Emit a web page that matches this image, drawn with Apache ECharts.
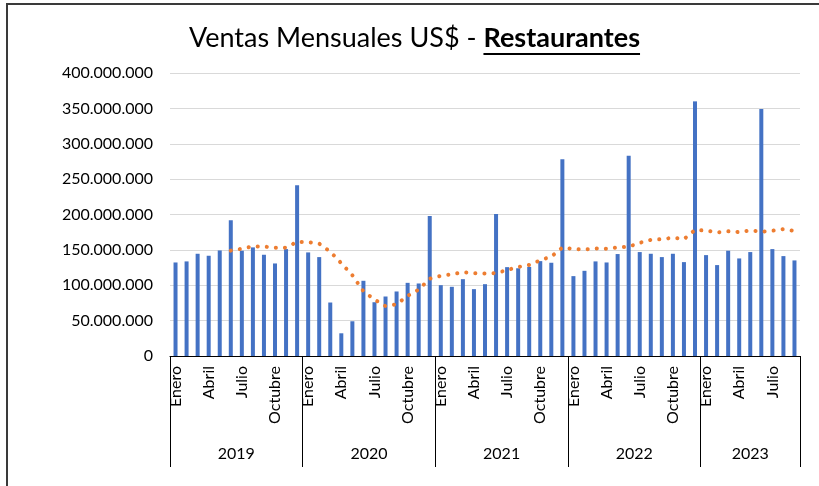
<html>
<head>
<meta charset="utf-8">
<title>Ventas Mensuales</title>
<style>
html, body { margin: 0; padding: 0; background: #fff; overflow: hidden; }
#wrap { position: relative; width: 819px; height: 486px; overflow: hidden; }
#main { width: 819px; height: 486px; }
#frame { position: absolute; left: 6px; top: 3px; width: 900px; height: 600px;
  border-left: 2px solid #3a3a3a; border-top: 2px solid #3a3a3a; pointer-events: none; }
</style>
</head>
<body>
<div id="wrap">
<div id="main"></div>
<div id="frame"></div>
</div>
<script src="https://cdn.jsdelivr.net/npm/echarts@6/dist/echarts.min.js"></script>
<script>
// datos en millones de US$
var years = ['2019', '2020', '2021', '2022', '2023'];
var monthNames = ['Enero', 'Febrero', 'Marzo', 'Abril', 'Mayo', 'Junio',
  'Julio', 'Agosto', 'Septiembre', 'Octubre', 'Noviembre', 'Diciembre'];

var ventas2019 = [132.2, 133.7, 144.5, 141.7, 149.2, 191.8, 148.8, 153.5, 143.1, 130.8, 151.1, 241.3];
var ventas2020 = [146.4, 139.8, 75.6, 32.1, 49.1, 106.3, 76.0, 84.1, 91.2, 103.4, 102.5, 197.9];
var ventas2021 = [100.1, 97.8, 108.6, 94.5, 101.5, 200.7, 125.6, 124.0, 126.0, 134.1, 131.8, 278.2];
var ventas2022 = [112.9, 120.4, 133.7, 132.2, 144.1, 282.9, 146.9, 144.5, 139.8, 144.5, 132.7, 359.9];
var ventas2023 = [142.6, 128.5, 148.8, 137.9, 146.9, 349.0, 151.1, 141.2, 135.1];

// media movil (6 periodos)
var mediaMovil = [null, null, null, null, null, 148.9, 151.6, 154.9, 154.7, 152.9, 153.2, 161.4,
  161.0, 158.8, 147.5, 131.1, 114.1, 91.6, 79.8, 70.5, 73.1, 85.0, 93.9, 109.2,
  113.2, 115.5, 118.4, 116.9, 116.7, 117.2, 121.5, 125.8, 128.7, 135.3, 140.4, 153.3,
  151.2, 150.6, 151.9, 151.5, 153.6, 154.4, 160.0, 164.1, 165.1, 167.1, 165.2, 178.1,
  177.3, 174.7, 176.2, 175.1, 177.4, 175.6, 177.0, 179.2, 176.9];

var yTicks = { min: 0, max: 400000000, interval: 50000000 };

var tituloA = 'Ventas Mensuales US$ - ';
var tituloB = 'Restaurantes';

var ventasPorAnio = [ventas2019, ventas2020, ventas2021, ventas2022, ventas2023];
var meses = [], anios = [], ventas = [];
ventasPorAnio.forEach(function (arr, k) {
  arr.forEach(function (v, m) {
    meses.push(monthNames[m]);
    anios.push(years[k]);
    ventas.push(v * 1e6);
  });
});
var media = mediaMovil.map(function (v) { return v == null ? null : v * 1e6; });

// posicion de la etiqueta del año: centro de cada bloque
var yearLabelIdx = {};
var yearStarts = {};
var start = 0;
ventasPorAnio.forEach(function (arr, k) {
  yearStarts[start] = true;
  yearLabelIdx[start + Math.floor(arr.length / 2)] = { year: years[k], even: arr.length % 2 === 0 };
  start += arr.length;
});

function fmt(v) {
  return String(v).replace(/\B(?=(\d{3})+(?!\d))/g, '.');
}

var FONT = 'Lato';
var TSIZE = 27;

// ancho del titulo para ubicar el subrayado
var ctx = document.createElement('canvas').getContext('2d');
ctx.font = 'normal ' + TSIZE + 'px ' + FONT;
var wA = ctx.measureText(tituloA).width;
ctx.font = 'bold ' + TSIZE + 'px ' + FONT;
var wB = ctx.measureText(tituloB).width;
var tLeft = (819 - wA - wB) / 2 + 5;

var chart = echarts.init(document.getElementById('main'));

option = {
  animation: false,
  textStyle: { fontFamily: FONT },
  title: {
    text: '{a|' + tituloA + '}{b|' + tituloB + '}',
    left: tLeft,
    top: 25,
    padding: 0,
    textStyle: {
      fontWeight: 'normal',
      rich: {
        a: { fontFamily: FONT, fontSize: TSIZE, fontWeight: 'normal', color: '#000' },
        b: { fontFamily: FONT, fontSize: TSIZE, fontWeight: 'bold', color: '#000' }
      }
    }
  },
  grid: { left: 170, right: 19, top: 73, bottom: 130 },
  xAxis: [
    {
      type: 'category',
      data: meses,
      axisLine: { lineStyle: { color: '#000', width: 1 } },
      axisTick: { show: false },
      axisLabel: {
        rotate: 90, interval: 2, margin: 10,
        fontFamily: FONT, fontSize: 16, color: '#000'
      }
    },
    {
      type: 'category',
      data: anios,
      position: 'bottom',
      axisLine: { show: false },
      axisTick: {
        show: true, length: 111,
        lineStyle: { color: '#000', width: 1 },
        interval: function (i) { return !!yearStarts[i]; }
      },
      axisLabel: {
        interval: function (i) { return !!yearLabelIdx[i]; },
        margin: 90,
        fontFamily: FONT, fontSize: 16, color: '#000',
        formatter: function (v, i) {
          var info = yearLabelIdx[i];
          return info.even ? '{s|' + v + '}' : '{c|' + v + '}';
        },
        rich: {
          s: { fontFamily: FONT, fontSize: 16, color: '#000', padding: [0, 11, 0, 0] },
          c: { fontFamily: FONT, fontSize: 16, color: '#000' }
        }
      }
    }
  ],
  yAxis: {
    type: 'value',
    min: yTicks.min, max: yTicks.max, interval: yTicks.interval,
    axisLine: { show: false },
    axisTick: { show: false },
    splitLine: { lineStyle: { color: '#d9d9d9', width: 1 } },
    axisLabel: {
      fontFamily: FONT, fontSize: 16, color: '#000', margin: 17,
      formatter: fmt
    }
  },
  series: [
    {
      name: 'Ventas',
      type: 'bar',
      data: ventas,
      barWidth: 4,
      itemStyle: { color: '#4472c4' }
    },
    {
      name: 'Media movil',
      type: 'line',
      data: media,
      symbol: 'none',
      lineStyle: { color: '#ed7d31', width: 4, type: [0.1, 9], cap: 'round' },
      z: 3
    }
  ],
  graphic: [
    {
      type: 'line',
      shape: { x1: tLeft + wA, y1: 54, x2: tLeft + wA + wB, y2: 54 },
      style: { stroke: '#000', lineWidth: 2 },
      silent: true
    }
  ]
};

chart.setOption(option);
</script>
</body>
</html>
